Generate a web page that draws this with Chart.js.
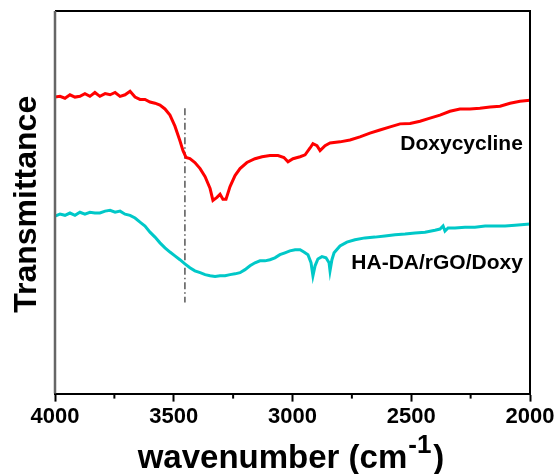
<!DOCTYPE html>
<html>
<head>
<meta charset="utf-8">
<script src="https://cdn.jsdelivr.net/npm/chart.js@4.4.1/dist/chart.umd.min.js"></script>
<style>
  html, body { margin: 0; padding: 0; background: #fff; }
  #wrap { width: 560px; height: 474px; position: relative; }
</style>
</head>
<body>
<div id="wrap"><canvas id="ftirChart"></canvas></div>
<script>
// Doxycycline spectrum (wavenumber cm-1, transmittance a.u.)
const doxyWn = [4000, 3979, 3958, 3937, 3916, 3895, 3874, 3853, 3832, 3811, 3789, 3768, 3747, 3726, 3705, 3684, 3663, 3642, 3621, 3600,
  3579, 3558, 3537, 3516, 3495, 3474, 3461, 3448, 3432, 3411, 3389, 3368, 3347, 3335, 3318, 3305, 3293, 3280, 3263, 3242,
  3221, 3192, 3158, 3128, 3095, 3061, 3036, 3019, 2998, 2968, 2947, 2926, 2914, 2897, 2884, 2863, 2842, 2800, 2758, 2716,
  2674, 2632, 2589, 2547, 2505, 2463, 2421, 2379, 2337, 2295, 2253, 2211, 2168, 2126, 2084, 2042, 2000];
const doxyT = [77.5, 77.7, 77.2, 78.1, 77.5, 77.7, 78.4, 77.7, 78.7, 77.7, 78.4, 78.1, 78.7, 77.7, 78.1, 79.0, 77.5, 76.9, 76.9, 76.2,
  75.9, 75.4, 74.4, 72.8, 69.9, 66.1, 63.5, 61.7, 61.4, 60.4, 58.8, 56.7, 53.6, 50.5, 51.3, 52.1, 50.8, 50.8, 54.1, 57.0,
  58.8, 60.4, 61.4, 61.9, 62.2, 62.2, 61.7, 60.6, 61.4, 61.9, 62.4, 64.2, 65.3, 64.8, 63.5, 64.8, 65.5, 65.8, 66.3, 67.1,
  68.1, 68.9, 69.7, 70.5, 70.6, 71.2, 72.0, 72.8, 73.8, 74.4, 74.4, 74.6, 74.9, 75.1, 75.9, 76.4, 76.7];

// HA-DA/rGO/Doxy spectrum
const hybridWn = [4000, 3979, 3958, 3937, 3916, 3895, 3874, 3853, 3832, 3811, 3789, 3768, 3747, 3726, 3705, 3684, 3663, 3642, 3621, 3600,
  3579, 3558, 3537, 3516, 3495, 3474, 3453, 3432, 3411, 3389, 3368, 3347, 3326, 3305, 3284, 3263, 3242, 3221, 3200, 3179,
  3158, 3137, 3116, 3095, 3074, 3053, 3032, 3011, 2989, 2968, 2952, 2935, 2922, 2914, 2905, 2893, 2876, 2859, 2846, 2842,
  2834, 2825, 2800, 2771, 2737, 2695, 2653, 2611, 2568, 2526, 2484, 2442, 2400, 2379, 2366, 2358, 2345, 2316, 2274, 2232,
  2189, 2147, 2105, 2063, 2000];
const hybridT = [46.4, 46.9, 46.6, 47.2, 46.6, 47.4, 46.9, 47.4, 47.2, 47.2, 47.7, 47.9, 47.4, 47.7, 46.9, 46.6, 45.9, 44.8, 43.8, 42.2,
  40.9, 39.4, 38.1, 37.0, 36.0, 35.0, 33.9, 32.9, 32.1, 31.6, 31.1, 30.8, 30.6, 30.8, 30.8, 31.1, 31.3, 31.6, 32.4, 33.4,
  34.2, 34.7, 34.7, 35.0, 35.5, 36.3, 36.8, 37.3, 37.6, 37.6, 37.0, 36.3, 34.2, 30.8, 33.4, 35.2, 35.8, 35.5, 34.2, 32.1,
  35.0, 36.8, 38.6, 39.6, 40.2, 40.7, 40.9, 41.2, 41.5, 41.7, 42.0, 42.2, 42.7, 43.0, 43.8, 42.5, 43.3, 43.3, 43.5, 43.5,
  43.8, 43.8, 43.8, 44.0, 44.3];

// dash-dot guide at the O-H / N-H band
const guideWn = [3453, 3453];
const guideT = [74.6, 23.8];

const seriesNames = ['Doxycycline', 'HA-DA/rGO/Doxy'];
const xTicks = [4000, 3500, 3000, 2500, 2000];

const FONT = '"Liberation Sans", Arial, sans-serif';

function toPoints(xs, ys) {
  return xs.map((x, i) => ({ x: x, y: ys[i] }));
}

// frame, minor ticks, curve labels and axis titles
const decorPlugin = {
  id: 'decor',
  afterDraw(chart) {
    const { ctx, chartArea: a, scales } = chart;
    const xs = scales.x, ys = scales.y;
    ctx.save();
    // top + right spines
    ctx.strokeStyle = '#000';
    ctx.lineWidth = 2;
    ctx.beginPath();
    ctx.moveTo(a.left, a.top);
    ctx.lineTo(a.right, a.top);
    ctx.lineTo(a.right, a.bottom);
    ctx.stroke();
    // left spine (grey)
    ctx.strokeStyle = '#666';
    ctx.lineWidth = 2.5;
    ctx.beginPath();
    ctx.moveTo(a.left, a.top);
    ctx.lineTo(a.left, a.bottom);
    ctx.stroke();
    // minor ticks
    ctx.strokeStyle = '#000';
    ctx.lineWidth = 2;
    for (let v = 3750; v > 2000; v -= 500) {
      const px = xs.getPixelForValue(v);
      ctx.beginPath();
      ctx.moveTo(px, a.bottom);
      ctx.lineTo(px, a.bottom + 5);
      ctx.stroke();
    }
    // curve labels
    ctx.fillStyle = '#000';
    ctx.font = 'bold 21px ' + FONT;
    ctx.textAlign = 'right';
    ctx.textBaseline = 'middle';
    ctx.fillText(seriesNames[0], xs.getPixelForValue(2030), ys.getPixelForValue(65.3));
    ctx.fillText(seriesNames[1], xs.getPixelForValue(2030), ys.getPixelForValue(34.2));
    // y title
    ctx.save();
    ctx.translate(27, (a.top + a.bottom) / 2 + 2);
    ctx.rotate(-Math.PI / 2);
    ctx.font = 'bold 32px ' + FONT;
    ctx.textAlign = 'center';
    ctx.textBaseline = 'middle';
    ctx.fillText('Transmittance', 0, 0);
    ctx.restore();
    // x title with superscript
    const main = 'wavenumber (cm', sup = '-1', close = ')';
    ctx.textAlign = 'left';
    ctx.textBaseline = 'alphabetic';
    ctx.font = 'bold 33px ' + FONT;
    const w1 = ctx.measureText(main).width;
    const w3 = ctx.measureText(close).width;
    ctx.font = 'bold 26px ' + FONT;
    const w2 = ctx.measureText(sup).width;
    const x0 = 291 - (w1 + w2 + w3 + 3) / 2;
    const base = 468;
    ctx.font = 'bold 33px ' + FONT;
    ctx.fillText(main, x0, base);
    ctx.font = 'bold 26px ' + FONT;
    ctx.fillText(sup, x0 + w1 + 1, base - 15);
    ctx.font = 'bold 33px ' + FONT;
    ctx.fillText(close, x0 + w1 + w2 + 3, base);
    ctx.restore();
  }
};

const ctx = document.getElementById('ftirChart').getContext('2d');
new Chart(ctx, {
  type: 'scatter',
  data: {
    datasets: [
      {
        label: seriesNames[0],
        data: toPoints(doxyWn, doxyT),
        borderColor: '#ff0000',
        borderWidth: 3
      },
      {
        label: seriesNames[1],
        data: toPoints(hybridWn, hybridT),
        borderColor: '#00c8c8',
        borderWidth: 3
      },
      {
        label: 'guide',
        data: toPoints(guideWn, guideT),
        borderColor: '#555',
        borderWidth: 1.5,
        borderDash: [7, 3, 1.5, 3]
      }
    ]
  },
  options: {
    responsive: true,
    maintainAspectRatio: false,
    animation: false,
    showLine: true,
    elements: { point: { radius: 0, hoverRadius: 0 }, line: { tension: 0 } },
    layout: { padding: { left: 55, right: 30, top: 11, bottom: 42 } },
    plugins: { legend: { display: false }, tooltip: { enabled: false } },
    scales: {
      x: {
        type: 'linear',
        reverse: true,
        min: 2000,
        max: 4000,
        afterBuildTicks(scale) {
          scale.ticks = xTicks.map(v => ({ value: v }));
        },
        ticks: {
          color: '#000',
          font: { family: FONT, size: 22, weight: 'bold' },
          padding: 2,
          maxRotation: 0,
          autoSkip: false,
          callback: v => String(v)
        },
        grid: { drawOnChartArea: false, tickLength: 8, tickWidth: 2, tickColor: '#000' },
        border: { display: true, color: '#000', width: 2 }
      },
      y: {
        display: false,
        min: 0,
        max: 100
      }
    }
  },
  plugins: [decorPlugin]
});
</script>
</body>
</html>
